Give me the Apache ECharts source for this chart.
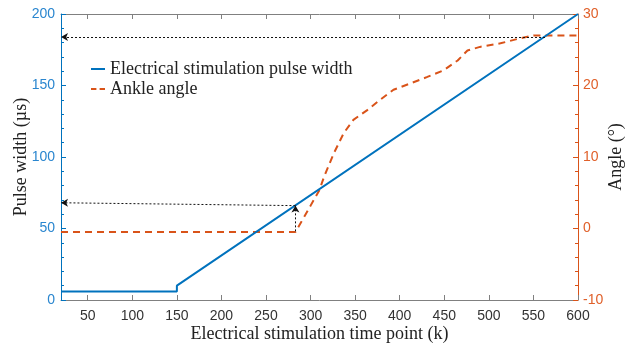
<!DOCTYPE html>
<html>
<head>
<meta charset="utf-8">
<script src="https://cdn.jsdelivr.net/npm/echarts@6/dist/echarts.min.js"></script>
<style>
  html, body { margin: 0; padding: 0; background: #fff; }
  #chart { width: 633px; height: 343px; }
</style>
</head>
<body>
<div id="chart"></div>
<script>
// Stimulation time points shown on the horizontal axis
const xTicks = [50, 100, 150, 200, 250, 300, 350, 400, 450, 500, 550, 600];

// Electrical stimulation pulse width (µs) vs. time point (k)
const pulseWidth = [[20, 6], [150, 6], [150, 10], [600, 200]];

// Ankle angle (°) vs. time point (k)
const ankleAngle = [
  [20, -0.5], [283, -0.5], [290, 1.0], [300, 3.2], [310, 5.4], [315, 7.2],
  [326, 10.5], [337, 13.3], [348, 15.2], [364, 16.6], [378, 18.0], [393, 19.4],
  [412, 20.3], [431, 21.2], [449, 22.1], [465, 23.5], [476, 24.9], [490, 25.4],
  [513, 25.9], [535, 26.6], [550, 27.0], [600, 27.0]
];

// Guide arrows (time point, pulse width)
const upperGuide = [[563, 184], [20, 184]];
const lowerGuideUp = [[283, 48], [283, 66]];
const lowerGuideLeft = [[283, 66], [20, 68]];

const blue = '#0072BD';
const orange = '#D95319';
const serif = '"Liberation Serif", "Times New Roman", serif';
const sans = '"Liberation Sans", Arial, sans-serif';

// Legend swatches: a solid stroke and a two-dash stroke
const solidIcon = 'path://M0,0H14V2H0Z';
const dashIcon = 'path://M0,0H5V2H0Z M8,0H13V2H8Z';

const chart = echarts.init(document.getElementById('chart'));

function guide(pair) {
  return [{ coord: pair[0] }, { coord: pair[1] }];
}

chart.setOption({
  animation: false,
  grid: { left: 61, right: 55, top: 14, bottom: 43, outerBoundsMode: 'none', containLabel: false },
  legend: {
    orient: 'vertical',
    left: 86,
    top: 54,
    itemWidth: 14,
    itemHeight: 2,
    itemGap: 0,
    symbolKeepAspect: false,
    textStyle: { fontFamily: serif, fontSize: 18, lineHeight: 20, color: '#222' },
    data: [
      { name: 'Electrical stimulation pulse width', icon: solidIcon, itemStyle: { color: blue } },
      { name: 'Ankle angle', icon: dashIcon, itemStyle: { color: orange } }
    ]
  },
  xAxis: [{
    type: 'value',
    min: 20,
    max: 600,
    position: 'bottom',
    name: 'Electrical stimulation time point (k)',
    nameLocation: 'middle',
    nameGap: 25,
    nameMoveOverlap: false,
    nameTextStyle: { fontFamily: serif, fontSize: 18, color: '#222' },
    axisLine: { onZero: false, lineStyle: { color: '#808080', width: 1 } },
    axisTick: { inside: true, length: 5, lineStyle: { color: '#808080' }, customValues: xTicks },
    axisLabel: { customValues: xTicks, fontFamily: sans, fontSize: 14, color: '#333', margin: 9 },
    splitLine: { show: false }
  }, {
    type: 'value',
    min: 20,
    max: 600,
    position: 'top',
    axisLine: { onZero: false, lineStyle: { color: '#808080', width: 1 } },
    axisTick: { inside: true, length: 5, lineStyle: { color: '#808080' }, customValues: xTicks },
    axisLabel: { show: false },
    splitLine: { show: false }
  }],
  yAxis: [{
    type: 'value',
    min: 0,
    max: 200,
    interval: 50,
    position: 'left',
    name: 'Pulse width (µs)',
    nameLocation: 'middle',
    nameRotate: 90,
    nameGap: 31,
    nameMoveOverlap: false,
    nameTextStyle: { fontFamily: serif, fontSize: 18, color: '#222' },
    axisLine: { show: true, onZero: false, lineStyle: { color: blue, width: 1 } },
    axisTick: { inside: true, length: 5, lineStyle: { color: blue } },
    minorTick: { show: true, splitNumber: 5, length: 3, lineStyle: { color: blue } },
    axisLabel: { fontFamily: sans, fontSize: 14, color: '#2a86cf', margin: 6 },
    splitLine: { show: false }
  }, {
    type: 'value',
    min: -10,
    max: 30,
    interval: 10,
    position: 'right',
    name: 'Angle (°)',
    nameLocation: 'middle',
    nameRotate: 90,
    nameGap: 29,
    nameMoveOverlap: false,
    nameTextStyle: { fontFamily: serif, fontSize: 18, color: '#222' },
    axisLine: { show: true, onZero: false, lineStyle: { color: orange, width: 1 } },
    axisTick: { inside: true, length: 5, lineStyle: { color: orange } },
    minorTick: { show: true, splitNumber: 5, length: 3, lineStyle: { color: orange } },
    axisLabel: { fontFamily: sans, fontSize: 14, color: '#e0602a', margin: 5 },
    splitLine: { show: false }
  }],
  series: [{
    name: 'Electrical stimulation pulse width',
    type: 'line',
    xAxisIndex: 0,
    yAxisIndex: 0,
    data: pulseWidth,
    symbol: 'none',
    lineStyle: { color: blue, width: 2 },
    itemStyle: { color: blue },
    z: 3,
    markLine: {
      silent: true,
      symbol: ['none', 'arrow'],
      symbolSize: [6, 7],
      label: { show: false },
      lineStyle: { color: '#111', type: [2, 2], width: 1 },
      data: [guide(upperGuide), guide(lowerGuideUp), guide(lowerGuideLeft)]
    }
  }, {
    name: 'Ankle angle',
    type: 'line',
    xAxisIndex: 0,
    yAxisIndex: 1,
    data: ankleAngle,
    symbol: 'none',
    lineStyle: { color: orange, width: 2, type: [7, 5] },
    itemStyle: { color: orange },
    z: 2
  }]
});
</script>
</body>
</html>
